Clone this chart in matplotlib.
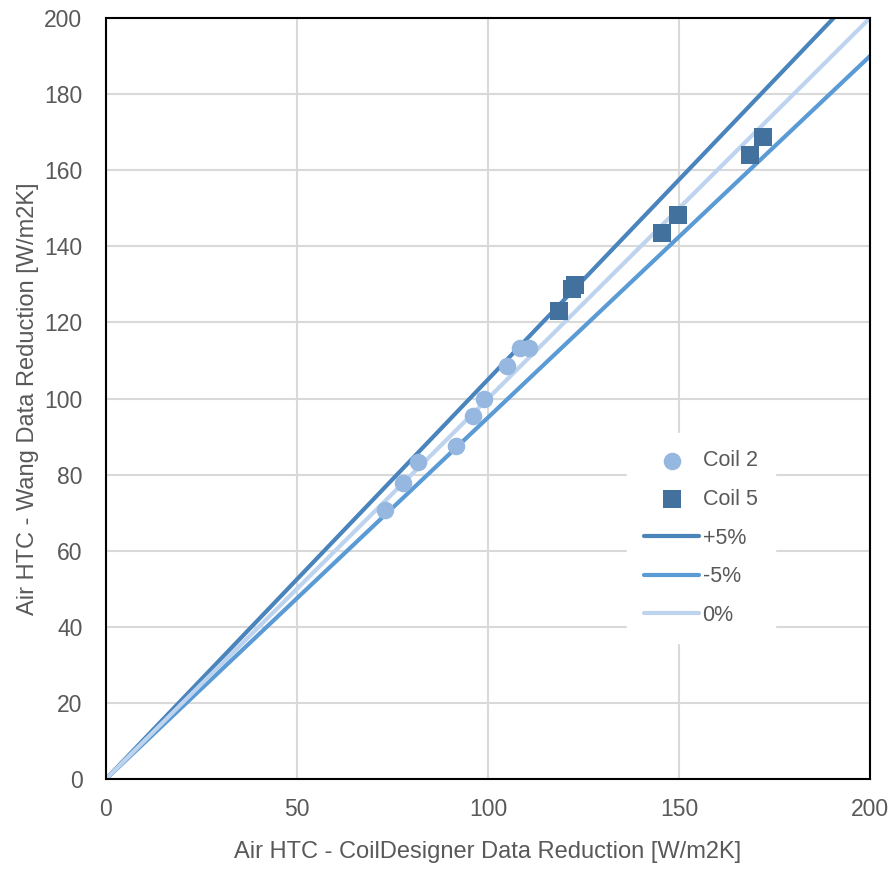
import matplotlib
matplotlib.use("Agg")
import matplotlib.pyplot as plt
import numpy as np

plt.rcParams['font.family'] = ['Liberation Sans', 'DejaVu Sans']

coil2_x = [73.0, 77.7, 81.7, 91.6, 96.1, 99.0, 105.0, 108.4, 110.7]
coil2_y = [70.7, 77.8, 83.3, 87.5, 95.4, 99.9, 108.5, 113.3, 113.3]
coil5_x = [118.6, 122.0, 122.8, 145.5, 149.7, 168.6, 172.0]
coil5_y = [123.0, 128.8, 129.8, 143.5, 148.2, 164.0, 168.7]
line_x = [0, 200]
plus5 = [0, 210]
minus5 = [0, 190]
zero = [0, 200]
xticks = [0, 50, 100, 150, 200]
yticks = [0, 20, 40, 60, 80, 100, 120, 140, 160, 180, 200]

fig = plt.figure(figsize=(8.95, 8.69), dpi=100)
ax = fig.add_axes([106/895, 1-779/869, (870-106)/895, (779-18)/869])

ax.plot(line_x, plus5, color='#4A84BC', lw=3, label='+5%', zorder=2, solid_capstyle='round')
ax.plot(line_x, minus5, color='#5B9BD5', lw=3, label='-5%', zorder=2, solid_capstyle='round')
ax.plot(line_x, zero, color='#BDD3EE', lw=3, label='0%', zorder=2, solid_capstyle='round')
ax.scatter(coil2_x, coil2_y, s=160, marker='o', color='#95B7E0', label='Coil 2', zorder=3, linewidths=0)
ax.scatter(coil5_x, coil5_y, s=160, marker='s', color='#41719C', label='Coil 5', zorder=3, linewidths=0)

ax.set_xlim(0, 200)
ax.set_ylim(0, 200)
ax.set_xticks(xticks)
ax.set_yticks(yticks)
ax.grid(True, color='#D9D9D9', lw=1.5)
ax.set_axisbelow(True)
for s in ax.spines.values():
    s.set_color('black')
    s.set_linewidth(1.5)
ax.tick_params(axis='x', length=0, labelsize=16.5, colors='#595959', pad=14)
ax.tick_params(axis='y', length=0, labelsize=16.5, colors='#595959', pad=17)
ax.set_xlabel('Air HTC - CoilDesigner Data Reduction [W/m2K]', fontsize=17, color='#595959', labelpad=14)
ax.set_ylabel('Air HTC - Wang Data Reduction [W/m2K]', fontsize=17, color='#595959', labelpad=4)

h, l = ax.get_legend_handles_labels()
order = [3, 4, 0, 1, 2]
leg = ax.legend([h[i] for i in order], [l[i] for i in order], loc='center',
                bbox_to_anchor=((701-106)/764, (779-538)/761), frameon=True,
                fancybox=False, edgecolor='white', framealpha=1, fontsize=15.5,
                labelspacing=0.82, handlelength=2.55, handletextpad=0.15, borderpad=0.8)
for t in leg.get_texts():
    t.set_color('#595959')

fig.savefig('out.png', dpi=100)
